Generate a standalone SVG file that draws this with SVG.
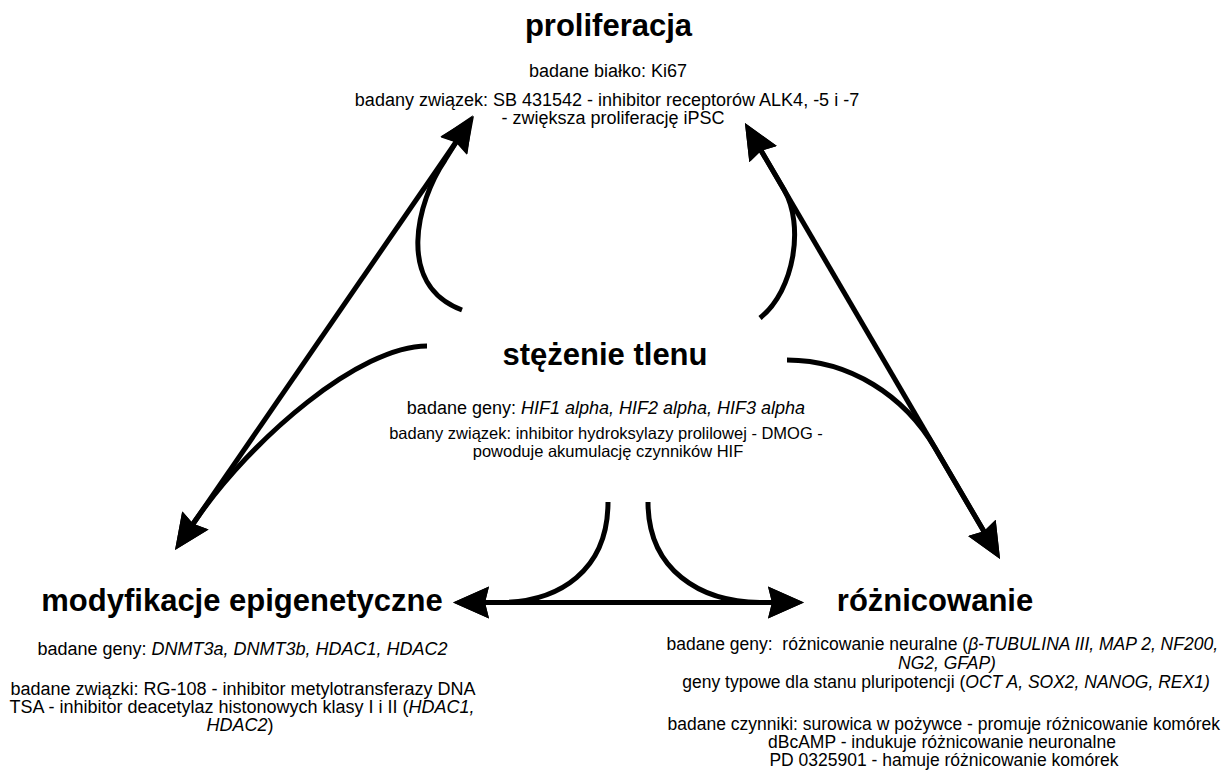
<svg xmlns="http://www.w3.org/2000/svg" width="1224" height="776" viewBox="0 0 1224 776">
<style>
.bg{fill:#fff}
.t{font-family:"Liberation Sans",Arial,sans-serif;font-size:31px;font-weight:bold;text-anchor:middle;fill:#000}
.s{font-family:"Liberation Sans",Arial,sans-serif;font-size:18px;text-anchor:middle;fill:#000}
.m{font-size:16.5px}
.r{font-size:17.5px}
.e{text-anchor:end}
.i{font-style:italic}
.c{fill:none;stroke:#000;stroke-width:5}
</style>
<defs>
<marker id="ah" markerUnits="userSpaceOnUse" markerWidth="40" markerHeight="36" viewBox="0 -18 40 36" refX="8" refY="0" orient="auto-start-reverse">
<path d="M0,-16 L36,0 L0,16 L4,0 Z" fill="#000"/>
</marker>
</defs>
<rect class="bg" width="1224" height="776"/>
<g id="connectors">
<path class="c" d="M458.1,139 L190.9,527" marker-start="url(#ah)" marker-end="url(#ah)"/>
<path class="c" d="M462,310 C395,285 417,201 445,160 L458.1,139" marker-end="url(#ah)"/>
<path class="c" d="M427,346 C360,346 252.4,437.7 195.7,520 L190.9,527" marker-end="url(#ah)"/>
<path class="c" d="M759.1,147.2 L985.9,534.8" marker-start="url(#ah)" marker-end="url(#ah)"/>
<path class="c" d="M760,318 C795,290 804.2,224.5 784.2,190 L759.1,147.2" marker-end="url(#ah)"/>
<path class="c" d="M787,360 C850,360 904.8,396 935.1,448 L985.9,534.8" marker-end="url(#ah)"/>
<path class="c" d="M481,602.5 L776,602.5" marker-start="url(#ah)" marker-end="url(#ah)"/>
<path class="c" d="M608,502 C608,570 560,602 500,602.5 L481,602.5" marker-end="url(#ah)"/>
<path class="c" d="M648,502 C648,570 700,602 760,602.5 L776,602.5" marker-end="url(#ah)"/>
</g>
<g id="proliferacja">
<text class="t" x="608.5" y="36">proliferacja</text>
<text class="s" x="608" y="77">badane białko: Ki67</text>
<text class="s" x="607" y="106">badany związek: SB 431542 - inhibitor receptorów ALK4, -5 i -7</text>
<text class="s" x="613" y="124">- zwiększa proliferację iPSC</text>
</g>
<g id="stezenie-tlenu">
<text class="t" x="605" y="365">stężenie tlenu</text>
<text class="s" x="606" y="414">badane geny: <tspan class="i">HIF1 alpha, HIF2 alpha, HIF3 alpha</tspan></text>
<text class="s m" x="606" y="439">badany związek: inhibitor hydroksylazy prolilowej - DMOG -</text>
<text class="s m" x="608" y="457">powoduje akumulację czynników HIF</text>
</g>
<g id="modyfikacje-epigenetyczne">
<text class="t" x="242" y="611">modyfikacje epigenetyczne</text>
<text class="s" x="242.5" y="655">badane geny: <tspan class="i">DNMT3a, DNMT3b, HDAC1, HDAC2</tspan></text>
<text class="s" x="243" y="695">badane związki: RG-108 - inhibitor metylotransferazy DNA</text>
<text class="s" x="242" y="713">TSA - inhibitor deacetylaz histonowych klasy I i II (<tspan class="i">HDAC1,</tspan></text>
<text class="s" x="240" y="731"><tspan class="i">HDAC2</tspan>)</text>
</g>
<g id="roznicowanie">
<text class="t" x="935" y="611">różnicowanie</text>
<text class="s r e" x="1218" y="650" xml:space="preserve">badane geny:  różnicowanie neuralne (<tspan class="i">β-TUBULINA III, MAP 2, NF200,</tspan></text>
<text class="s r i" x="947" y="669">NG2, GFAP)</text>
<text class="s r" x="946" y="688">geny typowe dla stanu pluripotencji (<tspan class="i">OCT A, SOX2, NANOG, REX1)</tspan></text>
<text class="s r e" x="1220" y="730">badane czynniki: surowica w pożywce - promuje różnicowanie komórek</text>
<text class="s r" x="942" y="748">dBcAMP - indukuje różnicowanie neuronalne</text>
<text class="s r" x="944" y="766">PD 0325901 - hamuje różnicowanie komórek</text>
</g>
</svg>
